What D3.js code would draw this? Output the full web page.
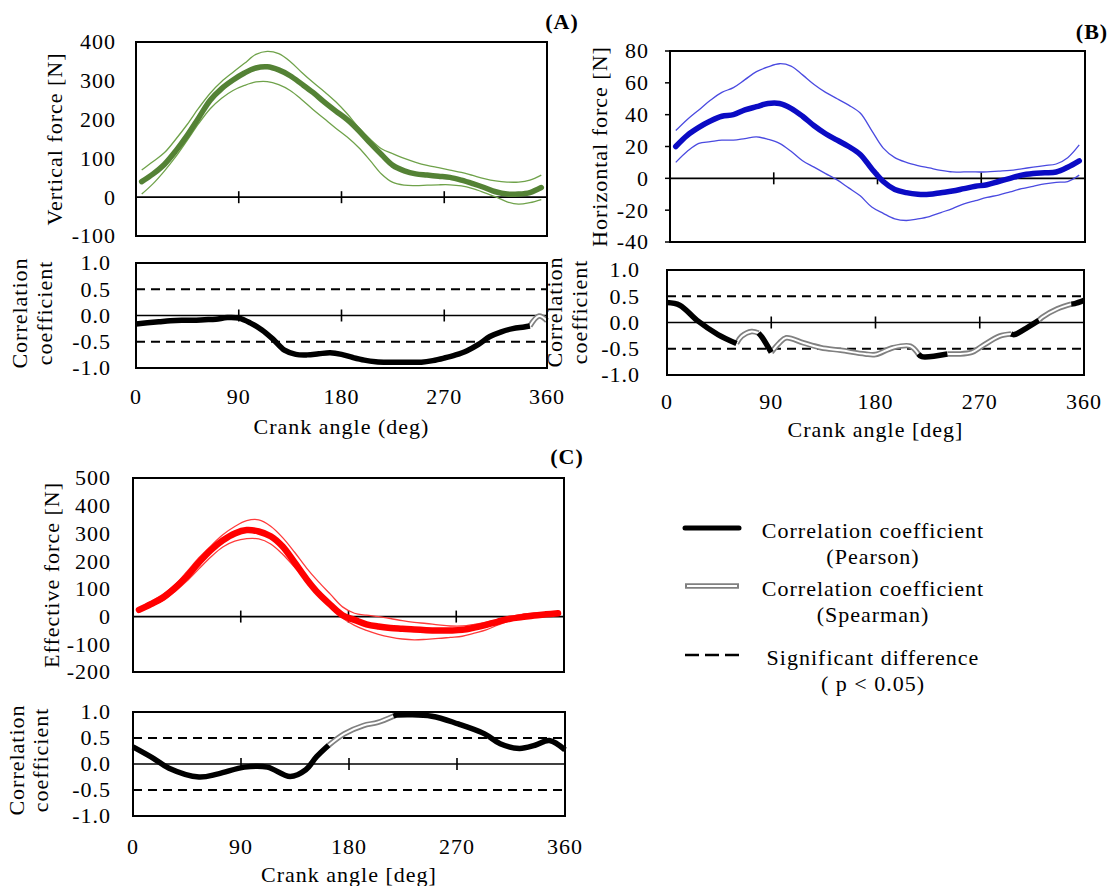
<!DOCTYPE html>
<html>
<head>
<meta charset="utf-8">
<script src="https://cdn.jsdelivr.net/npm/d3@7"></script>
<style>
	body { margin: 0; background: #fff; }
	text { font-family: "Liberation Serif", "Times New Roman", serif; font-size: 22px; letter-spacing: 1px; fill: #000; }
</style>
</head>
<body>
<svg id="fig" width="1118" height="886"></svg>
<script>
// ---- data ----
const forceAngles = [5, 15, 25, 35, 45, 55, 65, 75, 85, 95, 105, 115, 125, 135, 145, 155, 165, 175,
	185, 195, 205, 215, 225, 235, 245, 255, 265, 275, 285, 295, 305, 315, 325, 335, 345, 355];

// (A) vertical force [N]
const vertMean  = [40, 60, 85, 120, 160, 205, 250, 280, 302, 320, 333, 336, 328, 313, 292, 270, 245, 222,
	200, 172, 140, 110, 82, 68, 60, 57, 54, 51, 44, 35, 25, 14, 8, 8, 12, 25];
const vertUpper = [70, 92, 115, 150, 188, 230, 268, 298, 322, 345, 368, 376, 370, 350, 322, 296, 272, 246,
	215, 180, 150, 125, 112, 100, 90, 82, 76, 70, 64, 56, 48, 42, 39, 39, 44, 57];
const vertLower = [8, 35, 68, 105, 147, 190, 228, 255, 275, 288, 297, 298, 290, 275, 252, 226, 202, 178,
	155, 128, 95, 60, 38, 31, 30, 31, 32, 32, 29, 22, 12, 1, -12, -18, -14, -6];

// (B) horizontal force [N]
const horizMean  = [20, 27, 32, 36, 39, 40, 43, 45, 47, 47, 44, 39, 33, 28, 24, 20, 15, 6,
	-2, -7, -9, -10, -10, -9, -8, -6.5, -5, -4, -2, 0, 2, 3, 3.5, 4, 7, 11];
const horizUpper = [30, 37, 43, 49, 54, 57, 62, 67, 70, 72, 70.5, 65, 59, 54, 50, 46, 41, 30,
	19, 13, 10, 8, 6.5, 5, 4, 4, 4, 4, 4.5, 5, 6, 7, 8, 9, 13, 21];
const horizLower = [10, 17, 22, 23, 24, 24, 25, 26, 24.5, 22, 17, 11, 7, 3, -1, -6, -11, -18,
	-22, -25.5, -26.5, -25.5, -24, -21.5, -19, -16, -14, -12, -10.5, -8.5, -6.5, -5, -3.5, -2.5, -2, 2];

// (C) effective force [N]
const effMean  = [24, 45, 68, 103, 145, 195, 240, 275, 300, 312, 307, 290, 253, 195, 135, 83, 42, 5,
	-12, -28, -36, -41, -44, -47, -49, -50, -50, -48, -40, -30, -18, -8, -2, 4, 8, 12];
const effUpper = [30, 55, 80, 115, 162, 212, 255, 295, 325, 346, 349, 326, 285, 232, 175, 125, 80, 35,
	12, 5, 0, -7, -15, -21, -25, -30, -34, -34, -28, -20, -10, 0, 8, 12, 14, 16];
const effLower = [18, 38, 58, 90, 128, 172, 215, 251, 272, 281, 280, 262, 225, 178, 131, 80, 34, -5,
	-32, -50, -64, -74, -81, -84, -82, -79, -75, -71, -60, -48, -30, -14, -4, 1, 6, 10];

// correlation coefficients; type P = Pearson, S = Spearman
const corrAnglesA = [0, 10, 20, 30, 40, 50, 60, 70, 80, 90, 100, 110, 120, 130, 140, 150, 160, 170, 180,
	190, 200, 210, 220, 230, 240, 250, 260, 270, 280, 290, 300, 310, 320, 330, 340, 345, 353, 360];
const corrValuesA = [-0.16, -0.14, -0.12, -0.1, -0.09, -0.09, -0.08, -0.07, -0.04, -0.05, -0.14, -0.27,
	-0.45, -0.66, -0.74, -0.75, -0.73, -0.71, -0.74, -0.8, -0.85, -0.88, -0.89, -0.89, -0.89, -0.89,
	-0.86, -0.81, -0.75, -0.67, -0.55, -0.4, -0.31, -0.25, -0.22, -0.2, -0.01, -0.1];
const corrTypesA = ["P", "P", "P", "P", "P", "P", "P", "P", "P", "P", "P", "P", "P", "P", "P", "P", "P", "P", "P",
	"P", "P", "P", "P", "P", "P", "P", "P", "P", "P", "P", "P", "P", "P", "P", "P", "P", "S", "S"];

const corrAnglesB = [0, 11, 26, 44, 60, 64.5, 73, 79, 82, 90, 97, 103, 118, 133, 150, 171, 180, 195, 210,
	217, 220, 242, 251, 263, 272, 287, 297, 300, 310, 321, 324, 337, 349, 352, 360];
const corrValuesB = [0.38, 0.33, 0.04, -0.23, -0.4, -0.26, -0.17, -0.2, -0.28, -0.57, -0.39, -0.29,
	-0.39, -0.48, -0.53, -0.6, -0.61, -0.48, -0.45, -0.6, -0.65, -0.6, -0.6, -0.57, -0.45, -0.26, -0.22,
	-0.23, -0.11, 0.04, 0.1, 0.26, 0.35, 0.36, 0.42];
const corrTypesB = ["P", "P", "P", "P", "P", "S", "S", "S", "P", "P", "S", "S", "S", "S", "S", "S", "S", "S", "S",
	"S", "P", "P", "S", "S", "S", "S", "S", "P", "P", "P", "S", "S", "S", "P", "P"];

const corrAnglesC = [0, 17, 30, 55, 71, 93, 112, 131, 144, 153, 163, 176, 192, 204, 217, 220, 249, 271,
	293, 306, 322, 335, 347, 360];
const corrValuesC = [0.33, 0.11, -0.08, -0.25, -0.19, -0.06, -0.06, -0.24, -0.11, 0.14, 0.36, 0.58, 0.74,
	0.8, 0.92, 0.94, 0.92, 0.77, 0.58, 0.39, 0.3, 0.36, 0.45, 0.27];
const corrTypesC = ["P", "P", "P", "P", "P", "P", "P", "P", "P", "P", "P", "S", "S", "S", "S", "P", "P", "P",
	"P", "P", "P", "P", "P", "P"];

const angleTicks = [0, 90, 180, 270, 360];
const innerTicks = [90, 180, 270];
const vertTicks = [-100, 0, 100, 200, 300, 400];
const horizTicks = [-40, -20, 0, 20, 40, 60, 80];
const effTicks = [-200, -100, 0, 100, 200, 300, 400, 500];
const corrTicks = [-1, -0.5, 0, 0.5, 1];
const sigLevels = [-0.5, 0.5];

// ---- drawing ----
const svg = d3.select("#fig");

function makeScales(box, yDomain) {
	return {
		x: d3.scaleLinear().domain([0, 360]).range([box.x0, box.x1]),
		y: d3.scaleLinear().domain(yDomain).range([box.y1, box.y0])
	};
}

function drawFrame(box, sc, yTicks, fmt, gap, lw, leftTicks) {
	const g = svg.append("g");
	g.append("line")
		.attr("x1", box.x0).attr("x2", box.x1)
		.attr("y1", sc.y(0)).attr("y2", sc.y(0))
		.attr("stroke", "#000").attr("stroke-width", lw);
	g.selectAll(".itick")
		.data(innerTicks)
		.join("line")
		.attr("x1", d => sc.x(d)).attr("x2", d => sc.x(d))
		.attr("y1", sc.y(0) - 6).attr("y2", sc.y(0) + 6)
		.attr("stroke", "#000").attr("stroke-width", 1.6);
	if (leftTicks) {
		g.selectAll(".ltick")
			.data(yTicks)
			.join("line")
			.attr("x1", box.x0 - 5).attr("x2", box.x0)
			.attr("y1", d => sc.y(d)).attr("y2", d => sc.y(d))
			.attr("stroke", "#000").attr("stroke-width", 1.5);
	}
	g.selectAll(".ylab")
		.data(yTicks)
		.join("text")
		.attr("x", box.x0 - gap)
		.attr("y", d => sc.y(d))
		.attr("dy", "0.34em")
		.attr("text-anchor", "end")
		.text(fmt);
	return g;
}

function drawBox(box) {
	svg.append("rect")
		.attr("x", box.x0).attr("y", box.y0)
		.attr("width", box.x1 - box.x0).attr("height", box.y1 - box.y0)
		.attr("fill", "none").attr("stroke", "#000").attr("stroke-width", 2);
}

function forcePanel(box, yDomain, yTicks, gap, mean, upper, lower, color, thinColor, meanWidth, title, titleX, leftTicks) {
	const sc = makeScales(box, yDomain);
	drawFrame(box, sc, yTicks, d => String(d), gap, 1.8, leftTicks);
	const line = d3.line()
		.x((d, i) => sc.x(forceAngles[i]))
		.y(d => sc.y(d))
		.curve(d3.curveCatmullRom.alpha(0.5));
	[upper, lower].forEach(s => {
		svg.append("path").attr("d", line(s))
			.attr("fill", "none").attr("stroke", thinColor).attr("stroke-width", 1.3);
	});
	svg.append("path").attr("d", line(mean))
		.attr("fill", "none").attr("stroke", color).attr("stroke-width", meanWidth)
		.attr("stroke-linecap", "round").attr("stroke-linejoin", "round");
	drawBox(box);
	svg.append("text")
		.attr("transform", `translate(${titleX},${(box.y0 + box.y1) / 2}) rotate(-90)`)
		.attr("dy", "0.34em")
		.attr("text-anchor", "middle")
		.text(title);
	return sc;
}

function toRuns(angles, values, types) {
	const out = [];
	let cur = null;
	angles.forEach((a, i) => {
		if (!cur || cur.type !== types[i]) {
			const prev = cur ? cur.pts[cur.pts.length - 1] : null;
			cur = { type: types[i], pts: prev ? [prev] : [] };
			out.push(cur);
		}
		cur.pts.push([a, values[i]]);
	});
	return out;
}

function corrPanel(box, gap, angles, values, types, titleX1, titleX2, titleY, xTitle, xLabY, xTitleY) {
	const sc = makeScales(box, [-1, 1]);
	const g = drawFrame(box, sc, corrTicks, d => d.toFixed(1), gap, 1.3, false);
	g.selectAll(".sig")
		.data(sigLevels)
		.join("line")
		.attr("x1", box.x0).attr("x2", box.x1)
		.attr("y1", d => sc.y(d)).attr("y2", d => sc.y(d))
		.attr("stroke", "#000").attr("stroke-width", 1.8)
		.attr("stroke-dasharray", "9,6");

	const line = d3.line()
		.x(d => sc.x(d[0]))
		.y(d => sc.y(d[1]))
		.curve(d3.curveCatmullRom.alpha(0.5));
	const runs = toRuns(angles, values, types);
	runs.filter(r => r.type === "S").forEach(r => {
		svg.append("path").attr("d", line(r.pts))
			.attr("fill", "none").attr("stroke", "#808080").attr("stroke-width", 5.5);
		svg.append("path").attr("d", line(r.pts))
			.attr("fill", "none").attr("stroke", "#fff").attr("stroke-width", 2);
	});
	runs.filter(r => r.type === "P").forEach(r => {
		svg.append("path").attr("d", line(r.pts))
			.attr("fill", "none").attr("stroke", "#000").attr("stroke-width", 5.5)
			.attr("stroke-linejoin", "round");
	});
	drawBox(box);

	svg.selectAll(null)
		.data(angleTicks)
		.join("text")
		.attr("x", d => sc.x(d))
		.attr("y", xLabY)
		.attr("dy", "0.34em")
		.attr("text-anchor", "middle")
		.text(d => d);
	svg.append("text")
		.attr("x", (box.x0 + box.x1) / 2).attr("y", xTitleY)
		.attr("dy", "0.34em")
		.attr("text-anchor", "middle")
		.text(xTitle);
	[["Correlation", titleX1], ["coefficient", titleX2]].forEach(([t, x]) => {
		svg.append("text")
			.attr("transform", `translate(${x},${titleY}) rotate(-90)`)
			.attr("dy", "0.34em")
			.attr("text-anchor", "middle")
			.text(t);
	});
}

// panel A
forcePanel({ x0: 136, x1: 547, y0: 42, y1: 236 }, [-100, 400], vertTicks, 20,
	vertMean, vertUpper, vertLower, "#548235", "#6fa24a", 5.5, "Vertical force [N]", 55, false);
corrPanel({ x0: 136, x1: 547, y0: 263, y1: 368 }, 25, corrAnglesA, corrValuesA, corrTypesA,
	20, 45, 313, "Crank angle (deg)", 397, 427);

// panel B
forcePanel({ x0: 670, x1: 1085, y0: 51, y1: 242 }, [-40, 80], horizTicks, 21,
	horizMean, horizUpper, horizLower, "#0b0bc4", "#4a4ae0", 5.5, "Horizontal force [N]", 600, true);
corrPanel({ x0: 667, x1: 1084, y0: 270, y1: 375 }, 27, corrAnglesB, corrValuesB, corrTypesB,
	555, 580, 312, "Crank angle [deg]", 402, 430);

// panel C
forcePanel({ x0: 133, x1: 564, y0: 478, y1: 672 }, [-200, 500], effTicks, 22,
	effMean, effUpper, effLower, "#ff0000", "#ff3b3b", 6.5, "Effective force [N]", 52, false);
corrPanel({ x0: 133, x1: 565, y0: 712, y1: 816 }, 22, corrAnglesC, corrValuesC, corrTypesC,
	17, 41, 760, "Crank angle [deg]", 847, 875);

// panel letters
[["(A)", 562, 22], ["(B)", 1092, 32], ["(C)", 567, 457]].forEach(([t, x, y]) => {
	svg.append("text").attr("x", x).attr("y", y).attr("dy", "0.34em")
		.attr("text-anchor", "middle").attr("font-weight", "bold").text(t);
});

// legend
const legendItems = [
	{ kind: "P", y: 528, lines: ["Correlation coefficient", "(Pearson)"] },
	{ kind: "S", y: 586, lines: ["Correlation coefficient", "(Spearman)"] },
	{ kind: "D", y: 655, lines: ["Significant difference", "( p < 0.05)"] }
];
const lg = svg.append("g");
legendItems.forEach(it => {
	if (it.kind === "P") {
		lg.append("line").attr("x1", 685).attr("x2", 739).attr("y1", it.y).attr("y2", it.y)
			.attr("stroke", "#000").attr("stroke-width", 5).attr("stroke-linecap", "round");
	} else if (it.kind === "S") {
		lg.append("line").attr("x1", 685).attr("x2", 739).attr("y1", it.y).attr("y2", it.y)
			.attr("stroke", "#808080").attr("stroke-width", 5.5);
		lg.append("line").attr("x1", 687).attr("x2", 737).attr("y1", it.y).attr("y2", it.y)
			.attr("stroke", "#fff").attr("stroke-width", 2);
	} else {
		lg.append("line").attr("x1", 685).attr("x2", 739).attr("y1", it.y).attr("y2", it.y)
			.attr("stroke", "#000").attr("stroke-width", 2.5).attr("stroke-dasharray", "14,6");
	}
	it.lines.forEach((t, k) => {
		lg.append("text").attr("x", 873).attr("y", it.y + 3 + k * 26).attr("dy", "0.34em")
			.attr("text-anchor", "middle").text(t);
	});
});
</script>
</body>
</html>
